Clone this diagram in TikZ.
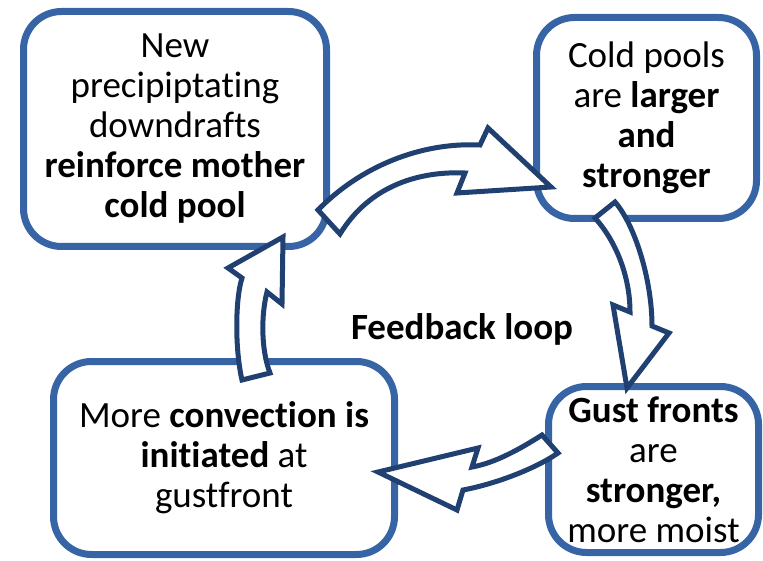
\documentclass[tikz,border=0pt]{standalone}
\usepackage{fontspec}
\setmainfont{Carlito}[Ligatures=NoCommon]
\usepackage{tikz}
\definecolor{boxblue}{RGB}{54,100,165}
\definecolor{arrowblue}{RGB}{31,64,112}
\tikzset{
  loopbox/.style={draw=boxblue, line width=7pt, rounded corners=38pt, fill=white,
    align=center, inner sep=0pt, font=\fontsize{37}{40}\selectfont},
  looparrow/.style={draw=arrowblue, line width=5pt, fill=white}
}

\begin{document}
\begin{tikzpicture}[x=1pt,y=-1pt]
    \useasboundingbox (0,0) rectangle (763,561);
    \node[loopbox, minimum width=303pt, minimum height=235pt] (reinforce) at (175,129)
        {New\\precipiptating\\downdrafts\\\textbf{reinforce mother}\\\textbf{cold pool}};
    \node[loopbox, minimum width=220pt, minimum height=201pt] (coldpools) at (646.5,118)
        {Cold pools\\are \textbf{larger}\\\textbf{and}\\\textbf{stronger}};
    \node[loopbox, minimum width=341pt, minimum height=193pt] (convection) at (224,458)
        {More \textbf{convection is}\\\textbf{initiated} at\\gustfront};
    \node[loopbox, minimum width=210pt, minimum height=166pt] (gustfronts) at (653.5,469.5)
        {\textbf{Gust fronts}\\are\\\textbf{stronger,}\\more moist};
    \node[anchor=base, font=\fontsize{37}{40}\selectfont\bfseries] (feedback) at (462,340) {Feedback loop};

    \draw[looparrow] (318,210) .. controls (360,167) and (420,142) .. (480,145)
                     -- (488,128) -- (551,187) -- (457,193) -- (465,173)
                     .. controls (420,171) and (370,185) .. (340,234) -- cycle;
    \draw[looparrow] (615,202) .. controls (635,225) and (652,280) .. (652,326)
                     -- (669,333) -- (627,388) -- (613,305) -- (630,312)
                     .. controls (630,275) and (615,240) .. (595,218) -- cycle;
    \draw[looparrow] (542,435) .. controls (520,449) and (495,463) .. (472,467)
                     -- (478,448) -- (378,472) -- (457,510) -- (463,490)
                     .. controls (495,484) and (535,469) .. (558,453) -- cycle;
    \draw[looparrow] (242,380) .. controls (235,350) and (235,300) .. (242,278)
                     -- (228,268) -- (283,237) -- (282,304) -- (267,292)
                     .. controls (261,315) and (261,350) .. (270,373) -- cycle;
\end{tikzpicture}
\end{document}
